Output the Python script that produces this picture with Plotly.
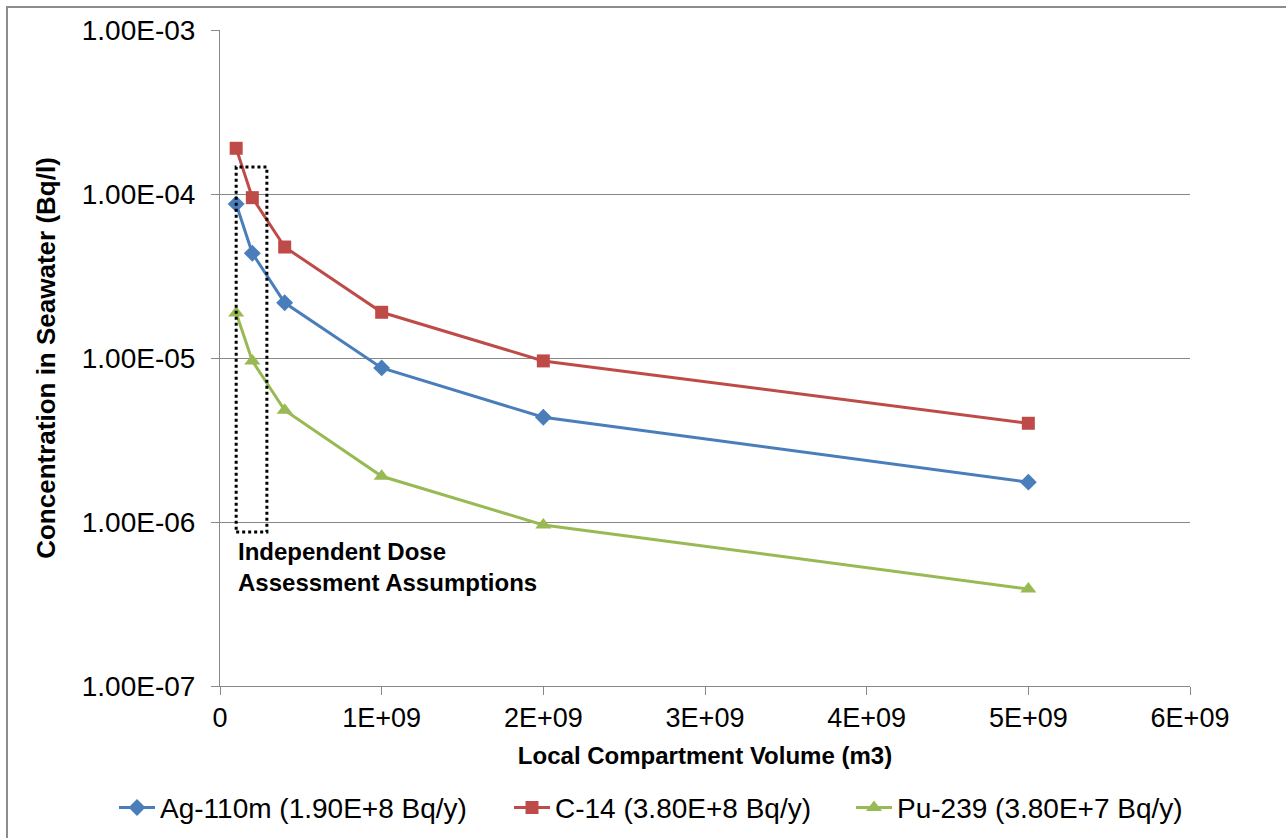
import plotly.graph_objects as go

# Local compartment volume (m3)
volumes = [1e8, 2e8, 4e8, 1e9, 2e9, 5e9]

# Concentration in seawater (Bq/l) per radionuclide
ag110m = [8.7e-5, 4.35e-5, 2.17e-5, 8.7e-6, 4.35e-6, 1.75e-6]
c14 = [1.9e-4, 9.5e-5, 4.75e-5, 1.9e-5, 9.6e-6, 4.0e-6]
pu239 = [1.88e-5, 9.6e-6, 4.8e-6, 1.9e-6, 9.6e-7, 3.9e-7]

series_names = [
    "Ag-110m (1.90E+8 Bq/y)",
    "C-14 (3.80E+8 Bq/y)",
    "Pu-239 (3.80E+7 Bq/y)",
]
series_colors = ["#4A7EBB", "#BE4B48", "#98B954"]
series_symbols = ["diamond", "square", "triangle-up"]
series_sizes = [13, 13, 14]

x_tickvals = [0, 1e9, 2e9, 3e9, 4e9, 5e9, 6e9]
x_ticktext = ["0", "1E+09", "2E+09", "3E+09", "4E+09", "5E+09", "6E+09"]
y_tickvals = [1e-7, 1e-6, 1e-5, 1e-4, 1e-3]
y_ticktext = ["1.00E-07", "1.00E-06", "1.00E-05", "1.00E-04", "1.00E-03"]

# Range covered by the independent dose assessment assumptions
ida_x = [1.0e8, 2.9e8]
ida_y = [8.7e-7, 1.46e-4]

FONT = "Liberation Sans, Arial, sans-serif"
GRID = "#888888"
W, H = 1286, 838

# one legend per series so each entry sits at its own horizontal position
legend_ids = ["legend", "legend2", "legend3"]
legend_left_px = [114, 509, 851]

fig = go.Figure()
for name, vals, col, sym, sz, lg in zip(series_names, [ag110m, c14, pu239],
                                         series_colors, series_symbols,
                                         series_sizes, legend_ids):
    fig.add_trace(go.Scatter(
        x=volumes, y=vals, name=name, mode="lines+markers",
        line=dict(color=col, width=3),
        marker=dict(symbol=sym, size=sz, color=col),
        legend=lg,
    ))

fig.add_shape(type="rect", xref="x", yref="y",
              x0=ida_x[0], x1=ida_x[1], y0=ida_y[0], y1=ida_y[1],
              line=dict(color="black", width=3, dash="dot"))

fig.add_annotation(text="<b>Independent Dose<br>Assessment Assumptions</b>",
                   xref="paper", yref="paper", x=0.016, y=0.229,
                   xanchor="left", yanchor="top", align="left", showarrow=False,
                   font=dict(family=FONT, size=24, color="black"))

# outer chart border
fig.add_shape(type="rect", xref="paper", yref="paper",
              x0=-0.2196, x1=1.12, y0=-0.25, y1=1.035,
              line=dict(color="#8c8c8c", width=2))

legend_style = dict(orientation="h", xref="container", yref="container",
                    y=0.036, xanchor="left", yanchor="middle",
                    font=dict(size=28), itemwidth=36, bgcolor="rgba(0,0,0,0)")

fig.update_layout(
    width=W, height=H,
    margin=dict(l=220, r=96, t=30, b=152),
    paper_bgcolor="white", plot_bgcolor="white",
    font=dict(family=FONT, color="black"),
    showlegend=True,
    legend=dict(legend_style, x=legend_left_px[0] / W),
    legend2=dict(legend_style, x=legend_left_px[1] / W),
    legend3=dict(legend_style, x=legend_left_px[2] / W),
    xaxis=dict(
        range=[0, 6e9], tickvals=x_tickvals, ticktext=x_ticktext,
        showgrid=False, zeroline=False,
        showline=True, linecolor=GRID, linewidth=1,
        ticks="outside", ticklen=8, tickcolor=GRID,
        tickfont=dict(size=27),
        title=dict(text="<b>Local Compartment Volume (m3)</b>",
                   font=dict(size=24), standoff=14),
    ),
    yaxis=dict(
        type="log", range=[-7, -3], tickvals=y_tickvals, ticktext=y_ticktext,
        showgrid=True, gridcolor=GRID, gridwidth=1, zeroline=False,
        showline=True, linecolor=GRID, linewidth=1,
        ticks="outside", ticklen=8, tickcolor=GRID,
        tickfont=dict(size=28), ticklabelstandoff=10,
        title=dict(text="<b>Concentration in Seawater (Bq/l)</b>",
                   font=dict(size=26), standoff=18),
    ),
)

fig.write_html("out.html")
